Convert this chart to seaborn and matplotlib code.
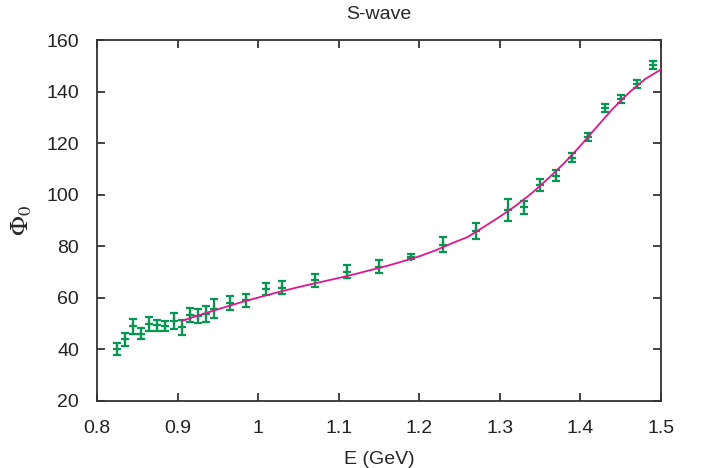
import numpy as np
import pandas as pd
import matplotlib
matplotlib.use("Agg")
import matplotlib.pyplot as plt
import seaborn as sns

# data points
energy = [0.825, 0.835, 0.845, 0.855, 0.865, 0.875, 0.885, 0.895, 0.905, 0.915,
          0.925, 0.935, 0.945, 0.965, 0.985, 1.01, 1.03, 1.07, 1.11, 1.15,
          1.19, 1.23, 1.27, 1.31, 1.33, 1.35, 1.37, 1.39, 1.41, 1.43,
          1.45, 1.47, 1.49]
phase = [40.0, 43.9, 48.9, 46.1, 49.7, 49.3, 49.1, 51.1, 48.5, 53.4,
         53.0, 53.6, 55.8, 58.1, 59.0, 63.3, 64.0, 66.9, 70.1, 72.1,
         76.0, 80.6, 86.0, 94.2, 95.1, 103.9, 107.4, 114.3, 122.5, 133.5,
         137.1, 142.9, 150.3]
phase_err = [2.3, 2.6, 2.9, 2.1, 2.7, 2.0, 2.1, 3.2, 3.0, 2.8,
             2.8, 3.1, 3.6, 2.7, 2.6, 2.3, 2.6, 2.5, 2.5, 2.5,
             1.0, 3.0, 3.0, 4.3, 2.6, 2.3, 2.0, 1.8, 1.5, 1.5,
             1.5, 1.5, 1.5]

# fit curve
fit_e = [0.905, 0.92, 0.94, 0.96, 0.98, 1.00, 1.02, 1.04, 1.06, 1.08,
         1.10, 1.12, 1.14, 1.16, 1.18, 1.20, 1.22, 1.24, 1.26, 1.28,
         1.30, 1.32, 1.34, 1.36, 1.38, 1.40, 1.42, 1.44, 1.46, 1.48, 1.50]
fit_phi = [51.0, 52.6, 54.6, 56.5, 58.4, 60.1, 61.8, 63.4, 64.9, 66.3,
           67.7, 69.2, 70.8, 72.4, 74.2, 76.1, 78.4, 81.1, 83.6, 87.5,
           91.5, 95.8, 100.7, 106.3, 112.3, 119.0, 126.2, 133.3, 139.5, 144.8, 148.6]

sns.set_style("white")
plt.rcParams['font.family'] = ['Liberation Sans', 'DejaVu Sans']
plt.rcParams['mathtext.fontset'] = 'stix'

pts = pd.DataFrame({"E": energy, "phi": phase, "err": phase_err})
fit = pd.DataFrame({"E": fit_e, "phi": fit_phi})

fig, ax = plt.subplots(figsize=(7.1, 4.68), dpi=100)
fig.subplots_adjust(left=0.1366, right=0.931, top=0.9145, bottom=0.1432)

green = '#00994f'
ax.errorbar(pts["E"], pts["phi"], yerr=pts["err"], fmt='none', ecolor=green,
            elinewidth=1.6, capsize=3, capthick=1.6, zorder=2)
sns.scatterplot(data=pts, x="E", y="phi", marker='+', s=30, color=green,
                linewidth=1.6, ax=ax, zorder=3)
sns.lineplot(data=fit, x="E", y="phi", color='#e0168c', linewidth=1.3, ax=ax, zorder=4)

ax.set_xlim(0.8, 1.5)
ax.set_ylim(20, 160)
ax.set_xticks([0.8, 0.9, 1.0, 1.1, 1.2, 1.3, 1.4, 1.5])
ax.set_xticklabels(['0.8', '0.9', '1', '1.1', '1.2', '1.3', '1.4', '1.5'])
ax.set_yticks(np.arange(20, 161, 20))

ax.tick_params(direction='in', length=6, width=1.2, labelsize=14, colors='#222222',
               top=True, right=True, bottom=True, left=True)
ax.tick_params(axis='x', pad=14)
ax.tick_params(axis='y', pad=13)
for s in ax.spines.values():
    s.set_linewidth(1.3)
    s.set_color('#333333')

ax.set_title('S-wave', fontsize=14, pad=15)
ax.set_xlabel('E (GeV)', fontsize=14, labelpad=10)
ax.set_ylabel(r'$\Phi_0$', fontsize=19, labelpad=9)

fig.savefig('out.png', dpi=100)
